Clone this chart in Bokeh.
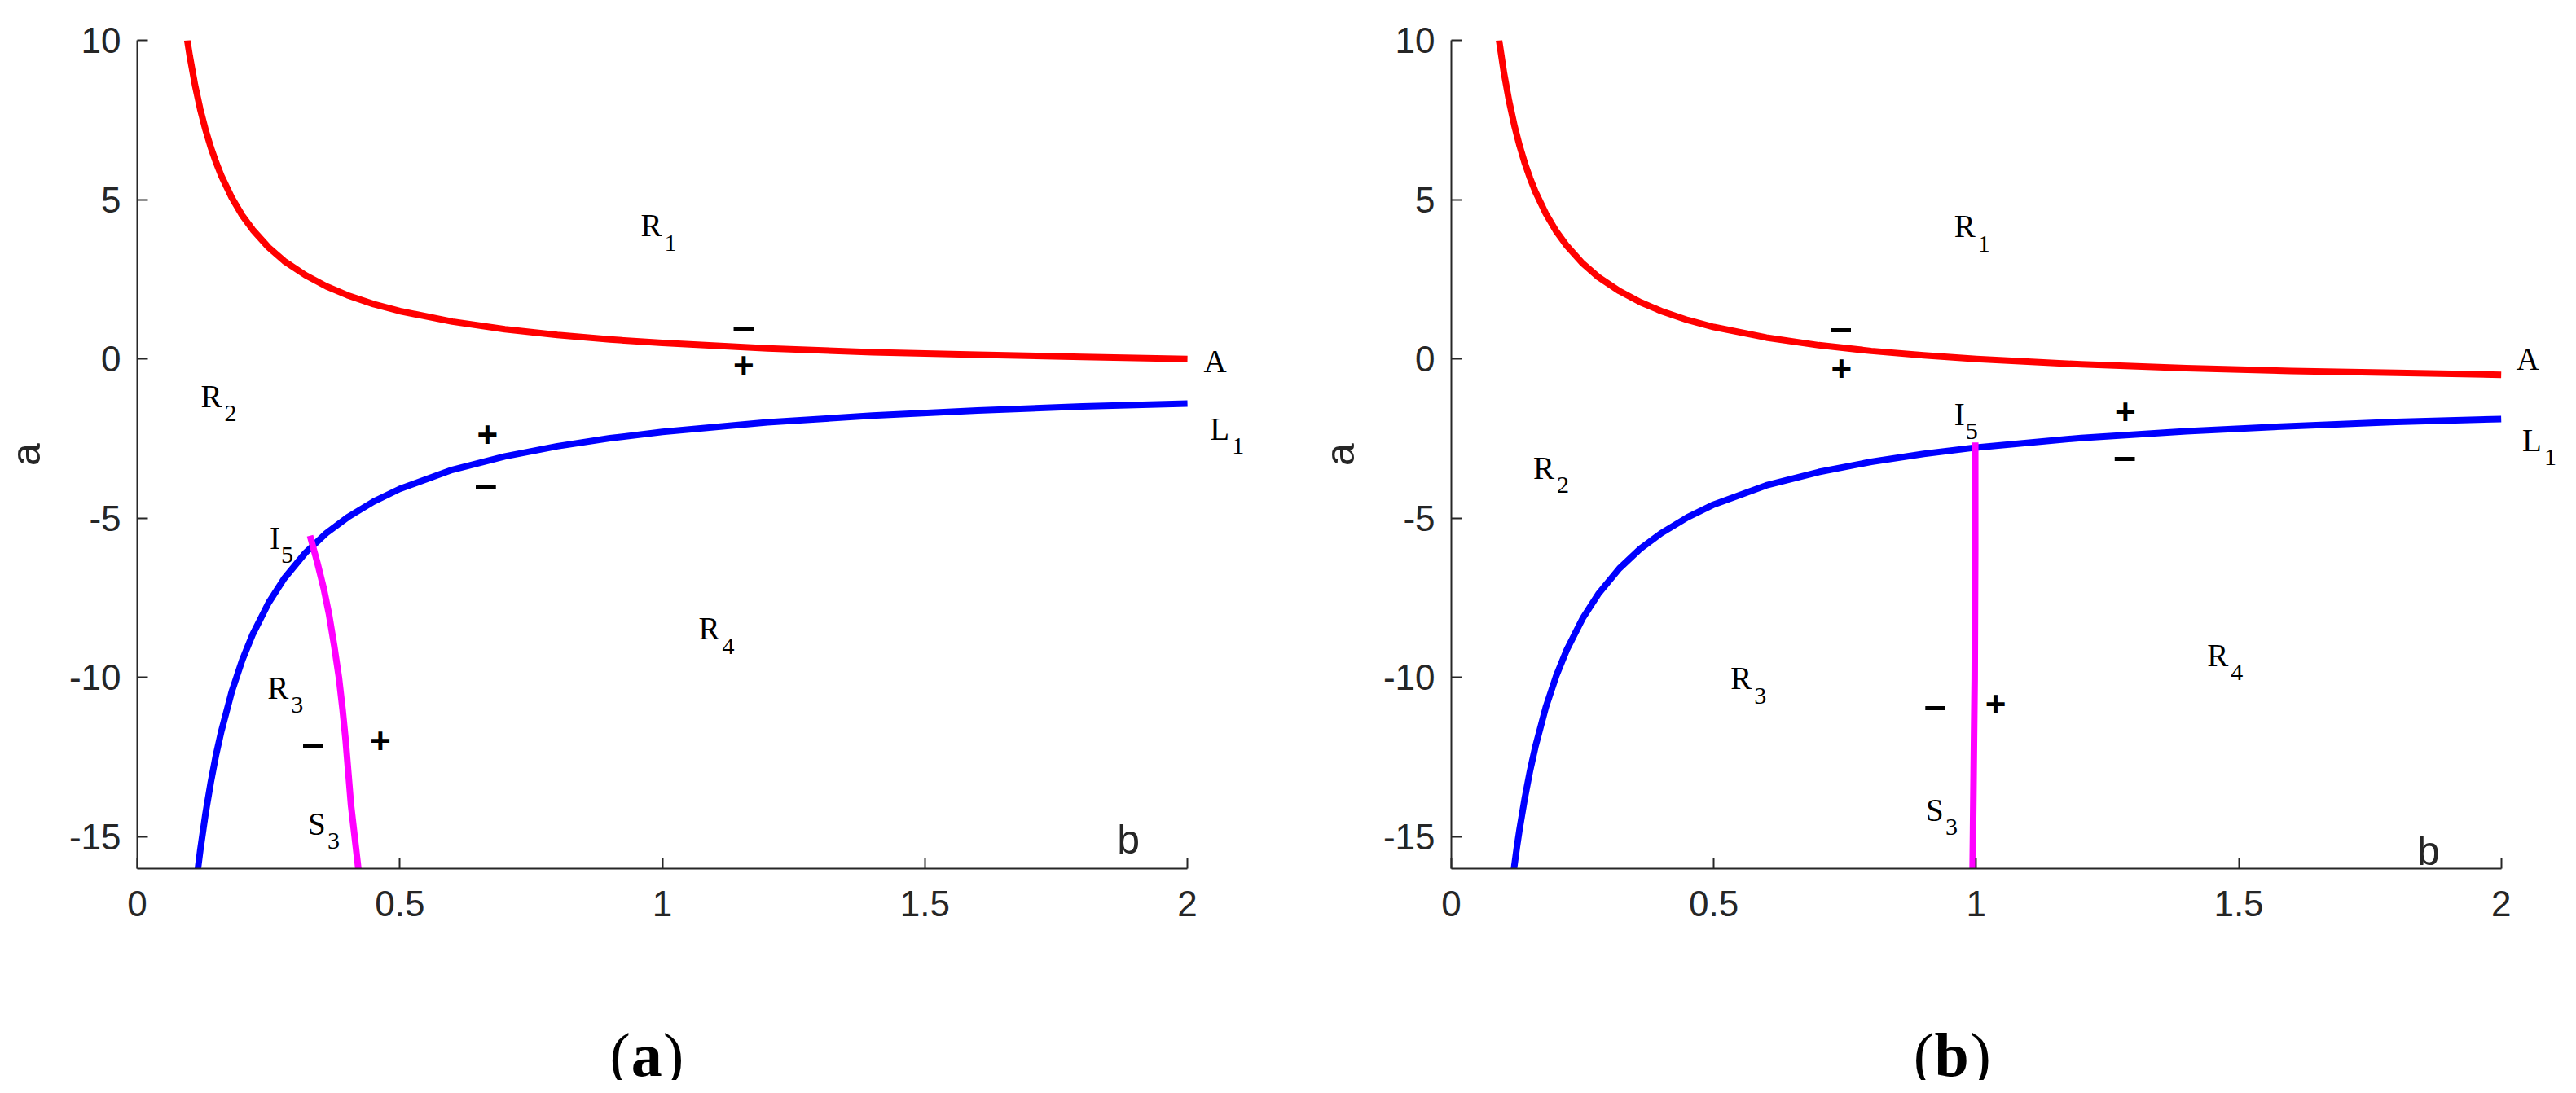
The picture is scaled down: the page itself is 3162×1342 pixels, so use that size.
from bokeh.plotting import figure
from bokeh.models import Range1d, FixedTicker, ColumnDataSource
from bokeh.layouts import row, column
from bokeh.embed import file_html
from bokeh.resources import INLINE
from bokeh.core.properties import value

# ---------------- data ----------------
# panel (a)
a_red_b = [0.0952, 0.10, 0.11, 0.12, 0.13, 0.14, 0.15, 0.16, 0.18, 0.20, 0.22, 0.25, 0.28, 0.32,
           0.36, 0.40, 0.45, 0.50, 0.60, 0.70, 0.80, 0.90, 1.00, 1.20, 1.40, 1.60, 1.80, 2.00]
a_red_a = [10.00, 9.50, 8.59, 7.83, 7.19, 6.64, 6.17, 5.75, 5.06, 4.50, 4.05, 3.50, 3.07, 2.63,
           2.28, 2.00, 1.72, 1.50, 1.17, 0.93, 0.75, 0.61, 0.50, 0.33, 0.21, 0.13, 0.06, 0.00]
a_blue_b = [0.1155, 0.12, 0.13, 0.14, 0.15, 0.16, 0.18, 0.20, 0.22, 0.25, 0.28, 0.32, 0.36,
            0.40, 0.45, 0.50, 0.60, 0.70, 0.80, 0.90, 1.00, 1.20, 1.40, 1.60, 1.80, 2.00]
a_blue_a = [-16.00, -15.42, -14.27, -13.29, -12.43, -11.69, -10.44, -9.45, -8.64, -7.66, -6.89,
            -6.09, -5.47, -4.98, -4.48, -4.08, -3.48, -3.06, -2.74, -2.49, -2.29, -1.99, -1.78,
            -1.62, -1.49, -1.40]
a_mag_b = [0.329, 0.343, 0.355, 0.365, 0.375, 0.384, 0.391, 0.397, 0.402, 0.407, 0.414, 0.421]
a_mag_a = [-5.55, -6.4, -7.2, -8.0, -9.0, -10.0, -11.0, -12.0, -13.0, -14.0, -15.0, -16.0]

# panel (b)
b_red_b = [0.0909, 0.10, 0.11, 0.12, 0.13, 0.14, 0.15, 0.16, 0.18, 0.20, 0.22, 0.25, 0.28, 0.32,
           0.36, 0.40, 0.45, 0.50, 0.60, 0.70, 0.80, 0.90, 1.00, 1.20, 1.40, 1.60, 1.80, 2.00]
b_red_a = [10.00, 9.00, 8.09, 7.33, 6.69, 6.14, 5.67, 5.25, 4.56, 4.00, 3.55, 3.00, 2.57, 2.13,
           1.78, 1.50, 1.22, 1.00, 0.67, 0.43, 0.25, 0.11, 0.00, -0.17, -0.29, -0.38, -0.44, -0.50]
b_blue_b = [0.1193, 0.125, 0.13, 0.14, 0.15, 0.16, 0.18, 0.20, 0.22, 0.25, 0.28, 0.32, 0.36,
            0.40, 0.45, 0.50, 0.60, 0.70, 0.80, 0.90, 1.00, 1.20, 1.40, 1.60, 1.80, 2.00]
b_blue_a = [-16.00, -15.31, -14.76, -13.78, -12.92, -12.18, -10.93, -9.94, -9.13, -8.15, -7.38,
            -6.58, -5.96, -5.47, -4.97, -4.57, -3.97, -3.55, -3.23, -2.98, -2.78, -2.48, -2.27,
            -2.11, -1.98, -1.885]
b_mag_b = [0.998, 0.998, 0.997, 0.995, 0.993]
b_mag_a = [-2.62, -6.0, -10.0, -13.0, -16.0]

# tick values / labels
x_ticks = [0, 0.5, 1, 1.5, 2]
x_tick_labels = ["0", "0.5", "1", "1.5", "2"]
y_ticks = [-15, -10, -5, 0, 5, 10]
y_tick_labels = ["-15", "-10", "-5", "0", "5", "10"]

# region / curve labels (main letter, subscript, position)
lab_main = ["R", "R", "R", "R", "I", "S", "A", "L"]
lab_sub = ["1", "2", "3", "4", "5", "3", "", "1"]
a_lab_b = [0.959, 0.121, 0.248, 1.069, 0.252, 0.325, 2.031, 2.043]
a_lab_a = [4.19, -1.16, -10.32, -8.47, -5.62, -14.59, -0.08, -2.19]
b_lab_b = [0.958, 0.156, 0.532, 1.440, 0.958, 0.904, 2.029, 2.040]
b_lab_a = [4.16, -3.42, -10.02, -9.29, -1.73, -14.15, 0.00, -2.54]

# sign marks
a_plus_b = [1.155, 0.667, 0.463]
a_plus_a = [-0.20, -2.38, -11.98]
a_minus_b = [1.155, 0.664, 0.335]
a_minus_a = [1.05, -3.95, -12.08]
b_plus_b = [0.743, 1.284, 1.037]
b_plus_a = [-0.30, -1.65, -10.83]
b_minus_b = [0.742, 1.283, 0.922]
b_minus_a = [1.00, -3.06, -10.87]

# axis label "b" inside the frame, caption letters
a_xlab = (1.866, -15.1)
b_xlab = (1.84, -15.45)
captions = ["a", "b"]
a_cap_b = [0.900, 0.9405, 1.0015]
b_cap_b = [0.8805, 0.9205, 0.9885]

# ---------------- styles ----------------
AX = "#262626"
TICK_FONT = "Liberation Sans"
TXT_FONT = "Liberation Serif"
SUB_DX = {"R": 29, "I": 14, "S": 24, "L": 27, "A": 0}
PX_PER_UNIT = 644.5


def panel(red_b, red_a, blue_b, blue_a, mag_b, mag_a, lab_b, lab_a, plus_b, plus_a,
          minus_b, minus_a, xlab, xmax, left_border, right_border):
    xr = Range1d(0, xmax)
    p = figure(frame_width=int(round(xmax * PX_PER_UNIT)), frame_height=1017,
               x_range=xr, y_range=Range1d(-16, 10),
               output_backend="svg", toolbar_location=None,
               min_border_left=left_border, min_border_right=right_border,
               min_border_top=49, min_border_bottom=110)
    p.outline_line_color = None
    p.grid.visible = False
    p.background_fill_color = "white"
    p.border_fill_color = "white"

    for ax in (p.xaxis[0], p.yaxis[0]):
        ax.axis_line_color = AX
        ax.axis_line_width = 2
        ax.major_tick_line_color = AX
        ax.major_tick_line_width = 2
        ax.major_tick_in = 13
        ax.major_tick_out = 0
        ax.minor_tick_line_color = None
        ax.major_label_text_font = TICK_FONT
        ax.major_label_text_font_size = "44px"
        ax.major_label_text_color = AX
    p.xaxis.ticker = FixedTicker(ticks=x_ticks)
    p.xaxis.major_label_overrides = dict(zip(x_ticks, x_tick_labels))
    p.xaxis.bounds = (0, 2)
    p.xaxis.major_label_standoff = 27
    p.yaxis.ticker = FixedTicker(ticks=y_ticks)
    p.yaxis.major_label_overrides = dict(zip(y_ticks, y_tick_labels))
    p.yaxis.major_label_standoff = 20
    p.yaxis.axis_label = "a"
    p.yaxis.axis_label_text_font = TICK_FONT
    p.yaxis.axis_label_text_font_size = "50px"
    p.yaxis.axis_label_text_font_style = "normal"
    p.yaxis.axis_label_text_color = AX
    p.yaxis.axis_label_standoff = 22

    p.line(red_b, red_a, line_color="#ff0000", line_width=8, line_join="round")
    p.line(blue_b, blue_a, line_color="#0000ff", line_width=8, line_join="round")
    p.line(mag_b, mag_a, line_color="#ff00ff", line_width=8, line_join="round")

    src = ColumnDataSource(dict(x=lab_b, y=lab_a, t=lab_main, s=lab_sub,
                                dx=[SUB_DX[m] for m in lab_main]))
    p.text(x="x", y="y", text="t", source=src, text_font=value(TXT_FONT),
           text_font_size="39px", text_color="black", text_align="left",
           text_baseline="alphabetic")
    p.text(x="x", y="y", text="s", source=src, x_offset="dx", y_offset=21.5,
           text_font=value(TXT_FONT), text_font_size="30px", text_color="black",
           text_align="left", text_baseline="alphabetic")

    p.text(x=plus_b, y=plus_a, text=["+"] * len(plus_b), text_font=value(TICK_FONT),
           text_font_size="44px", text_font_style="bold", text_color="black",
           text_align="center", text_baseline="middle")
    p.text(x=minus_b, y=minus_a, text=["\u2013"] * len(minus_b), text_font=value(TICK_FONT),
           text_font_size="50px", text_font_style="bold", text_color="black",
           text_align="center", text_baseline="middle")

    p.text(x=[xlab[0]], y=[xlab[1]], text=["b"], text_font=value(TICK_FONT),
           text_font_size="50px", text_color=AX, text_align="left",
           text_baseline="alphabetic")
    return p, xr


def caption(xr, xmax, cap_b, letter, left_border, right_border):
    c = figure(frame_width=int(round(xmax * PX_PER_UNIT)), frame_height=150,
               x_range=xr, y_range=Range1d(0, 150),
               output_backend="svg", toolbar_location=None,
               x_axis_location=None, y_axis_location=None,
               min_border_left=left_border, min_border_right=right_border,
               min_border_top=0, min_border_bottom=0)
    c.outline_line_color = None
    c.grid.visible = False
    c.background_fill_color = "white"
    c.border_fill_color = "white"
    for txt, xb, style in zip(["(", letter, ")"], cap_b, ["normal", "bold", "normal"]):
        c.text(x=[xb], y=[32], text=[txt], text_font=value(TXT_FONT),
               text_font_size="76px", text_font_style=style, text_color="black",
               text_align="left", text_baseline="alphabetic")
    return c


p1, xr1 = panel(a_red_b, a_red_a, a_blue_b, a_blue_a, a_mag_b, a_mag_a, a_lab_b, a_lab_a,
                a_plus_b, a_plus_a, a_minus_b, a_minus_a, a_xlab, 2.2, 164, 10)
p2, xr2 = panel(b_red_b, b_red_a, b_blue_b, b_blue_a, b_mag_b, b_mag_a, b_lab_b, b_lab_a,
                b_plus_b, b_plus_a, b_minus_b, b_minus_a, b_xlab, 2.12, 185, 0)
c1 = caption(xr1, 2.2, a_cap_b, captions[0], 164, 10)
c2 = caption(xr2, 2.12, b_cap_b, captions[1], 185, 0)

layout = row(column(p1, c1), column(p2, c2))
open("out.html", "w").write(file_html(layout, INLINE))
